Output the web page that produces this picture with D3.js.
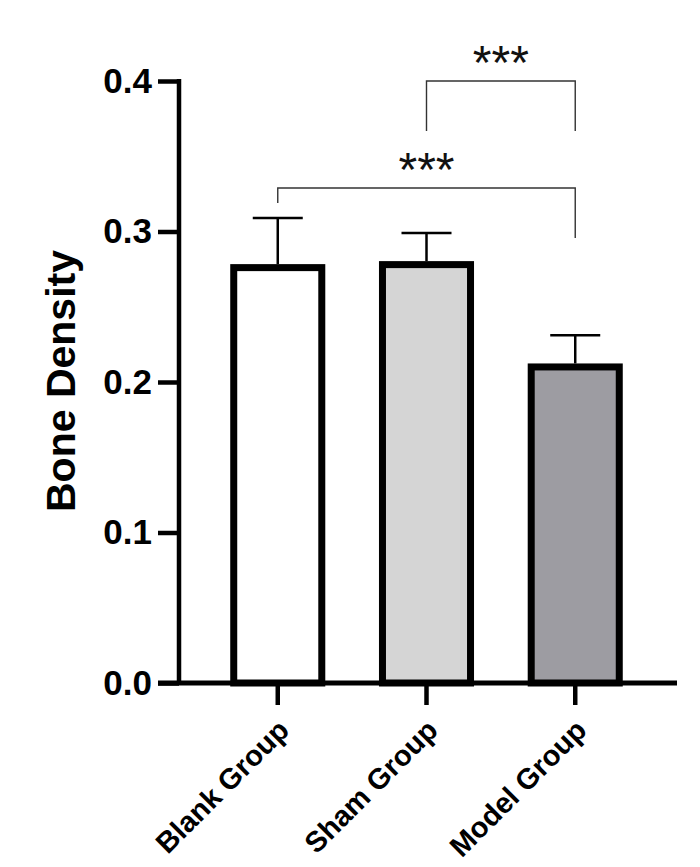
<!DOCTYPE html>
<html>
<head>
<meta charset="utf-8">
<script src="https://cdn.jsdelivr.net/npm/d3@7"></script>
<style>
  body { margin: 0; background: #fff; }
  text { font-family: Arial, "Liberation Sans", sans-serif; }
</style>
</head>
<body>
<div id="chart"></div>
<script>
// Bone density by group (mean + SD)
const groups = ["Blank Group", "Sham Group", "Model Group"];
const means = [0.276, 0.278, 0.210];
const errors = [0.033, 0.021, 0.021];
const fills = ["#ffffff", "#d5d5d5", "#9d9ca2"];
const yTicks = [0.0, 0.1, 0.2, 0.3, 0.4];
// significance comparisons: [from index, to index, label]
const comparisons = [
    [1, 2, "***"],
    [0, 2, "***"]
];

const width = 700;
const height = 867;

const svg = d3.select("#chart")
    .append("svg")
    .attr("width", width)
    .attr("height", height);

const y = d3.scaleLinear()
    .domain([0, 0.4])
    .range([683, 81]);

const x = d3.scaleBand()
    .domain(groups)
    .range([179, 674])
    .paddingInner(0.408)
    .paddingOuter(0.368);

// Bars
svg.selectAll(".bar")
    .data(groups)
    .enter()
    .append("rect")
    .attr("class", "bar")
    .attr("x", d => x(d))
    .attr("y", (d, i) => y(means[i]))
    .attr("width", x.bandwidth())
    .attr("height", (d, i) => y(0) - y(means[i]))
    .attr("fill", (d, i) => fills[i])
    .attr("stroke", "#000")
    .attr("stroke-width", 7);

// Error bars (upper only)
const capW = 50;
groups.forEach((g, i) => {
    const cx = x(g) + x.bandwidth() / 2;
    svg.append("line")
        .attr("x1", cx).attr("x2", cx)
        .attr("y1", y(means[i]) - 3.5)
        .attr("y2", y(means[i] + errors[i]))
        .attr("stroke", "#000")
        .attr("stroke-width", 2.5);
    svg.append("line")
        .attr("x1", cx - capW / 2).attr("x2", cx + capW / 2)
        .attr("y1", y(means[i] + errors[i]))
        .attr("y2", y(means[i] + errors[i]))
        .attr("stroke", "#000")
        .attr("stroke-width", 2.5);
});

// Y axis
const yAxis = svg.append("g")
    .attr("transform", "translate(179,0)")
    .call(d3.axisLeft(y)
        .tickValues(yTicks)
        .tickFormat(d3.format(".1f"))
        .tickSize(21)
        .tickSizeOuter(0)
        .tickPadding(6));
yAxis.select(".domain")
    .attr("stroke-width", 4.5)
    .attr("d", `M0,${y(0.4) - 2}V${y(0)}`);
yAxis.selectAll(".tick line").attr("stroke-width", 4.5);
yAxis.selectAll(".tick text")
    .attr("font-size", 35)
    .attr("font-weight", "bold")
    .attr("fill", "#000");

// X axis
const xAxis = svg.append("g")
    .attr("transform", `translate(0,${y(0)})`)
    .call(d3.axisBottom(x).tickSize(22).tickSizeOuter(0));
xAxis.select(".domain").remove();
xAxis.append("line")
    .attr("x1", 158).attr("x2", 677)
    .attr("y1", 0).attr("y2", 0)
    .attr("stroke", "#000")
    .attr("stroke-width", 5);
xAxis.selectAll(".tick line").attr("stroke-width", 4.5);
xAxis.selectAll(".tick text")
    .attr("font-size", 29)
    .attr("font-weight", "bold")
    .attr("fill", "#000")
    .attr("text-anchor", "end")
    .attr("dy", 0)
    .attr("transform", "translate(13,49) rotate(-45)")
    .attr("y", 0)
    .attr("x", 0);

// Y axis title
svg.append("text")
    .attr("transform", "translate(75,381) rotate(-90)")
    .attr("text-anchor", "middle")
    .attr("font-size", 41)
    .attr("font-weight", "bold")
    .attr("fill", "#000")
    .text("Bone Density");

// Significance brackets
const bracketTops = [81, 188];
const legEnds = [[131, 131], [203, 238]];
comparisons.forEach((c, k) => {
    const x1 = x(groups[c[0]]) + x.bandwidth() / 2;
    const x2 = x(groups[c[1]]) + x.bandwidth() / 2;
    const top = bracketTops[k];
    svg.append("path")
        .attr("d", `M${x1},${legEnds[k][0]}V${top}H${x2}V${legEnds[k][1]}`)
        .attr("fill", "none")
        .attr("stroke", "#333")
        .attr("stroke-width", 1.4);
    svg.append("text")
        .attr("x", (x1 + x2) / 2)
        .attr("y", top - 2)
        .attr("text-anchor", "middle")
        .attr("font-size", 48)
        .attr("fill", "#111")
        .text(c[2]);
});
</script>
</body>
</html>
